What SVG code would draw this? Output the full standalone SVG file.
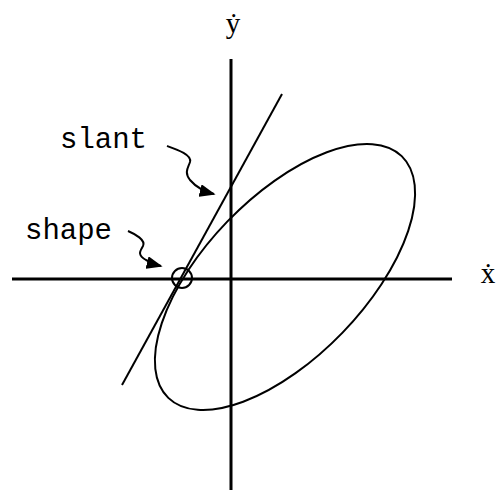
<svg xmlns="http://www.w3.org/2000/svg" width="496" height="495" viewBox="0 0 496 495">
<style>
.ax{stroke:#000;stroke-width:3;fill:none}
.ln{stroke:#000;stroke-width:2;fill:none}
.lbl{font-family:"Liberation Mono",monospace;font-size:29px;fill:#000}
.axl{font-family:"Liberation Serif",serif;font-size:29px;fill:#000}
</style>
<defs>
<marker id="ah" viewBox="0 0 10 8" refX="9" refY="4" markerWidth="8" markerHeight="6.4" orient="auto" markerUnits="strokeWidth">
<path d="M0,0 L10,4 L0,8 z" fill="#000"/>
</marker>
</defs>
<rect width="496" height="495" fill="#fff"/>
<g id="axes">
<line class="ax" x1="231" y1="59" x2="231" y2="490"/>
<line class="ax" x1="12" y1="279" x2="452" y2="279"/>
<text class="axl" x="233" y="33" text-anchor="middle">ẏ</text>
<text class="axl" x="488" y="283" text-anchor="middle">ẋ</text>
</g>
<g id="ellipse">
<ellipse class="ln" cx="285" cy="277" rx="168" ry="80" transform="rotate(-46 285 277)"/>
</g>
<g id="slant-line">
<line class="ln" x1="122" y1="385" x2="282" y2="94"/>
</g>
<g id="shape-point">
<circle class="ln" cx="182" cy="278" r="10"/>
</g>
<g id="labels">
<text class="lbl" x="60" y="148">slant</text>
<text class="lbl" x="25" y="239">shape</text>
</g>
<g id="connectors">
<path class="ln" d="M167,146 C178,150 192,155 190,162 C188,168 184,172 190,180 C196,187 206,192 214,194" marker-end="url(#ah)"/>
<path class="ln" d="M128,231 C135,234 146,240 143,246 C140,251 137,255 146,260 C152,263 157,265 161,266" marker-end="url(#ah)"/>
</g>
</svg>
